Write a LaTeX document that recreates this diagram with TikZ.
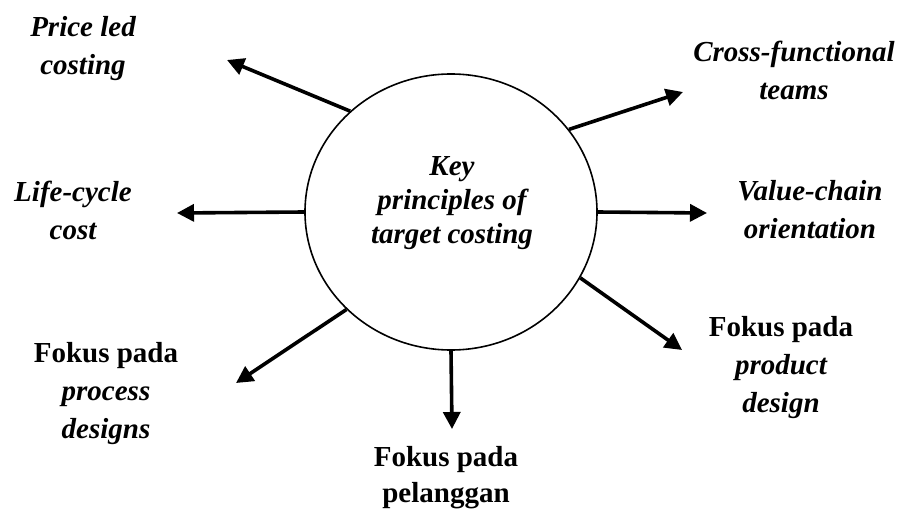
\documentclass[tikz,border=0pt]{standalone}
\usepackage{fontspec}
\setmainfont{Liberation Serif}[BoldItalicFont={Liberation Serif Bold Italic},BoldFont={Liberation Serif Bold},ItalicFont={Liberation Serif Italic}]
\usetikzlibrary{arrows.meta,shapes.geometric}
\begin{document}
\begin{tikzpicture}[x=1pt,y=-1pt,
  lbl/.style={align=center,inner sep=0pt,font=\fontsize{29}{38}\selectfont\bfseries},
  conn/.style={line width=3.6pt,-{Triangle[length=17pt,width=17pt]}}]
\useasboundingbox (0,0) rectangle (903,511);
\node[ellipse,draw,line width=1.6pt,minimum width=292pt,minimum height=276pt,inner sep=0pt] (c) at (451,212) {};
\node[align=center,inner sep=0pt,font=\fontsize{29}{34}\selectfont\bfseries\itshape] (ct) at (452,203)
  {Key\\principles of\\target costing};
\coordinate (p1) at (227,60);
\coordinate (p2) at (683,92);
\coordinate (p3) at (707,213);
\coordinate (p4) at (177,213);
\coordinate (p5) at (236,383);
\coordinate (p6) at (452,429);
\coordinate (p7) at (682,350);
\draw[conn] (c.135.3) -- (p1);
\draw[conn] (c.35.9) -- (p2);
\draw[conn] (c.0) -- (p3);
\draw[conn] (c.180) -- (p4);
\draw[conn] (c.223) -- (p5);
\draw[conn] (c.270) -- (p6);
\draw[conn] (c.333) -- (p7);
\node[lbl] (l1) at (83,49) {\itshape Price led\\\itshape costing};
\node[lbl] (l2) at (794,70) {\itshape Cross-functional\\\itshape teams};
\node[lbl] (l3) at (810,210) {\itshape Value-chain\\\itshape orientation};
\node[lbl] (l4) at (73,210) {\itshape Life-cycle\\\itshape cost};
\node[lbl] (l5) at (106,394) {Fokus pada\\\itshape process\\\itshape designs};
\node[lbl,font=\fontsize{29}{36}\selectfont\bfseries] (l6) at (446,478) {Fokus pada\\pelanggan};
\node[lbl] (l7) at (781,368) {Fokus pada\\\itshape product\\\itshape design};
\end{tikzpicture}
\end{document}
